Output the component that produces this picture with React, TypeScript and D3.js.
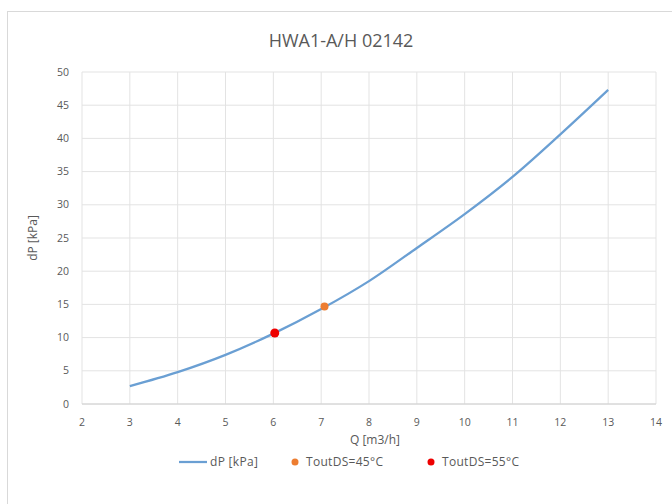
import React from "react";
import * as d3 from "d3";

const qValues = [3, 4, 5, 6, 7, 8, 9, 10, 11, 12, 13];
const dpValues = [2.7, 4.8, 7.4, 10.6, 14.3, 18.5, 23.5, 28.6, 34.2, 40.6, 47.3];
const point45 = { q: 7.07, dp: 14.7 };
const point55 = { q: 6.03, dp: 10.7 };
const xTicks = [2, 3, 4, 5, 6, 7, 8, 9, 10, 11, 12, 13, 14];
const yTicks = [0, 5, 10, 15, 20, 25, 30, 35, 40, 45, 50];
const legendLabels = ["dP [kPa]", "ToutDS=45°C", "ToutDS=55°C"];

export default function App() {
  const x = d3.scaleLinear().domain([2, 14]).range([82, 656]);
  const y = d3.scaleLinear().domain([0, 50]).range([404, 72]);
  const data = qValues.map((q, i) => ({ q, dp: dpValues[i] }));
  const line = d3
    .line<{ q: number; dp: number }>()
    .x((d) => x(d.q))
    .y((d) => y(d.dp))
    .curve(d3.curveCatmullRom);
  const font = "Open Sans, Liberation Sans, sans-serif";
  const txt = "#595959";
  return (
    <svg
      width={672}
      height={504}
      style={{ position: "absolute", left: 0, top: 0, background: "#fff" }}
      fontFamily={font}
    >
      <rect x={7.5} y={11.5} width={680} height={510} fill="#fff" stroke="#d9d9d9" />
      <text x={341} y={47} textAnchor="middle" fontSize={18} fill={txt}>
        HWA1-A/H 02142
      </text>
      {xTicks.map((t) => (
        <line key={"vx" + t} x1={x(t)} x2={x(t)} y1={y(50)} y2={y(0)} stroke="#e3e3e3" strokeWidth={1} />
      ))}
      {yTicks.map((t) => (
        <line key={"hy" + t} x1={x(2)} x2={x(14)} y1={y(t)} y2={y(t)} stroke="#e3e3e3" strokeWidth={1} />
      ))}
      <line x1={x(2)} x2={x(14)} y1={y(0)} y2={y(0)} stroke="#d0d0d0" />
      {xTicks.map((t) => (
        <text key={"xt" + t} x={x(t)} y={y(0) + 22} textAnchor="middle" fontSize={10.5} fill={txt}>
          {t}
        </text>
      ))}
      {yTicks.map((t) => (
        <text key={"yt" + t} x={69} y={y(t) + 3.5} textAnchor="end" fontSize={10.5} fill={txt}>
          {t}
        </text>
      ))}
      <text x={375} y={444} textAnchor="middle" fontSize={12} fill={txt}>
        Q [m3/h]
      </text>
      <text
        transform={`translate(37,${(y(0) + y(50)) / 2}) rotate(-90)`}
        textAnchor="middle"
        fontSize={12}
        fill={txt}
      >
        dP [kPa]
      </text>
      <path d={line(data) || ""} fill="none" stroke="#6a9fd3" strokeWidth={2.25} />
      <circle cx={x(point45.q)} cy={y(point45.dp)} r={4} fill="#ed7d31" />
      <circle cx={x(point55.q)} cy={y(point55.dp)} r={4.5} fill="#ee0000" />
      <g fontSize={12} fill={txt} letterSpacing={0.3}>
        <line x1={179} x2={207} y1={462} y2={462} stroke="#6a9fd3" strokeWidth={2.25} />
        <text x={210} y={466}>{legendLabels[0]}</text>
        <circle cx={295} cy={462} r={3.5} fill="#ed7d31" />
        <text x={306} y={466}>{legendLabels[1]}</text>
        <circle cx={431} cy={462} r={3.5} fill="#ee0000" />
        <text x={442} y={466}>{legendLabels[2]}</text>
      </g>
    </svg>
  );
}
